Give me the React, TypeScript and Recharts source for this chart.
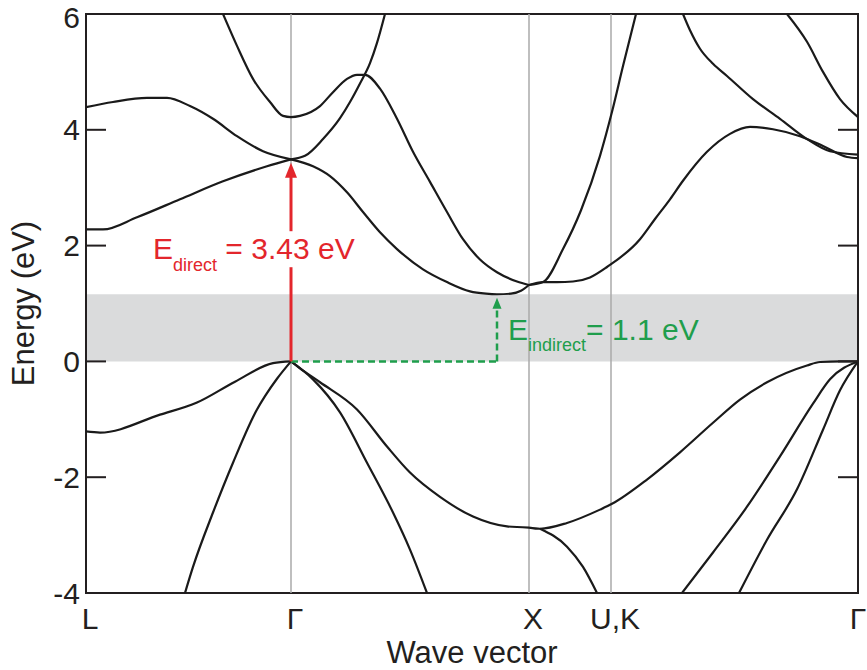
import React from "react";
import {
  LineChart,
  Line,
  XAxis,
  YAxis,
  ReferenceArea,
  ReferenceLine,
  ReferenceDot,
  Label,
} from "recharts";

// Positions of the high-symmetry points along the k-path (path length units)
const K_L = 0;
const K_GAMMA = 205;
const K_X = 443;
const K_UK = 525;
const K_GAMMA2 = 772;

const kTicks = [K_L, K_GAMMA, K_X, K_UK, K_GAMMA2];
const kLabels = ["L", "Γ", "X", "U,K", "Γ"];
const energyTicks = [-4, -2, 0, 2, 4, 6];

const DIRECT_GAP = 3.43;
const INDIRECT_GAP = 1.1;
const CBM_K = 411; // conduction band minimum along Γ-X
const GAP_TOP = 1.16;

// conduction bands: [k, E(eV)]
type Pt = [number, number];

const cbLambda1: Pt[] = [[0, 2.28], [17, 2.28], [51, 2.49], [94, 2.8], [137, 3.11], [181, 3.37], [205, 3.49]];
const cbLambda3: Pt[] = [[0, 4.39], [27, 4.48], [61, 4.55], [81, 4.55], [104, 4.41], [127, 4.19], [151, 3.89], [177, 3.63], [205, 3.49]];
const cbGamma2: Pt[] = [
  [137, 6.0], [151, 5.45], [167, 4.88], [184, 4.48], [197, 4.24], [205, 4.22], [214, 4.24], [234, 4.41],
  [247, 4.65], [261, 4.88], [271, 4.95], [279, 4.95], [294, 4.71], [311, 4.19], [327, 3.62], [344, 3.1],
  [361, 2.58], [377, 2.11], [394, 1.76], [411, 1.54], [431, 1.38], [443, 1.32],
];
const cbDelta5: Pt[] = [[205, 3.49], [219, 3.55], [237, 3.84], [254, 4.2], [264, 4.48], [274, 4.8], [284, 5.15], [291, 5.5], [299, 6.0]];
const cbDelta1: Pt[] = [
  [205, 3.49], [227, 3.37], [244, 3.2], [261, 2.92], [277, 2.58], [294, 2.23], [311, 1.94], [337, 1.59],
  [361, 1.37], [384, 1.21], [400, 1.17], [411, 1.16], [425, 1.17], [435, 1.22], [443, 1.32],
];
const cbXUlow: Pt[] = [
  [443, 1.32], [457, 1.37], [471, 1.37], [487, 1.38], [504, 1.45], [521, 1.63], [554, 2.11],
  [569, 2.46], [584, 2.8], [597, 3.12], [621, 3.62], [644, 3.93], [664, 4.05], [687, 4.01], [714, 3.89],
  [737, 3.72], [761, 3.53], [772, 3.51],
];
const cbXUsteep: Pt[] = [[443, 1.32], [457, 1.37], [477, 1.94], [495, 2.61], [514, 3.55], [526, 4.31], [537, 5.1], [550, 6.0]];
const cbKGa: Pt[] = [[597, 6.0], [604, 5.72], [614, 5.4], [627, 5.14], [641, 4.93], [667, 4.53], [694, 4.19], [721, 3.84], [744, 3.63], [772, 3.57]];
const cbKGb: Pt[] = [[701, 6.0], [721, 5.52], [737, 5.0], [754, 4.53], [772, 4.22]];

// valence bands
const vbLambda3: Pt[] = [[0, -1.21], [14, -1.23], [74, -0.92], [111, -0.71], [149, -0.35], [187, -0.03], [205, 0]];
const vbLambda1: Pt[] = [[99, -4.0], [107, -3.55], [127, -2.61], [147, -1.75], [171, -0.83], [179, -0.6], [191, -0.3], [205, 0]];
const vbDelta5: Pt[] = [[205, 0], [214, -0.12], [234, -0.36], [271, -0.83], [301, -1.47], [324, -1.92], [354, -2.34], [387, -2.68], [421, -2.85], [443, -2.87]];
const vbDelta1: Pt[] = [[205, 0], [227, -0.31], [254, -0.88], [281, -1.75], [307, -2.61], [324, -3.25], [341, -4.0]];
const vbXUtop: Pt[] = [
  [443, -2.87], [454, -2.89], [481, -2.79], [514, -2.56], [526, -2.46], [561, -2.04], [594, -1.57],
  [627, -1.06], [654, -0.66], [681, -0.36], [721, -0.07], [734, -0.01], [755, 0], [772, 0],
];
const vbXUlow: Pt[] = [[454, -2.89], [481, -3.2], [497, -3.55], [511, -4.0]];
const vbKG1: Pt[] = [[596, -4.0], [627, -3.3], [661, -2.51], [694, -1.64], [727, -0.73], [744, -0.31], [772, 0]];
const vbKG2: Pt[] = [[653, -4.0], [681, -3.08], [711, -2.21], [737, -1.18], [754, -0.5], [772, 0]];

const bands = [
  cbLambda1, cbLambda3, cbGamma2, cbDelta5, cbDelta1, cbXUlow, cbXUsteep, cbKGa, cbKGb,
  vbLambda3, vbLambda1, vbDelta5, vbDelta1, vbXUtop, vbXUlow, vbKG1, vbKG2,
].map((b) => b.map(([k, e]) => ({ k, e })));

const FONT = "'Liberation Sans', Arial, Helvetica, sans-serif";
const INK = "#231f20";
const RED = "#e3262c";
const GREEN = "#1f9e4c";
const FS = 30; // tick labels and annotations
const TITLE_FS = 31;
const SUB = 18;

// baselines of the two annotations, in eV
const DIRECT_LABEL_E = 1.765;
const INDIRECT_LABEL_E = 0.363;

function EnergyTick({ x, y, payload }: any) {
  // keep the topmost label inside the canvas
  const dy = payload.value === 6 ? 14 : 10.5;
  return (
    <g>
      <line x1={x + 6} x2={x + 26} y1={y} y2={y} stroke={INK} strokeWidth={2} />
      <text x={x} y={y} dy={dy} textAnchor="end" fontSize={FS} fontFamily={FONT} fill={INK}>
        {payload.value}
      </text>
    </g>
  );
}

function RightTick({ x, y }: any) {
  return <line x1={x - 20} x2={x} y1={y} y2={y} stroke={INK} strokeWidth={2} />;
}

function KTick({ x, y, payload }: any) {
  const i = kTicks.indexOf(payload.value);
  const dx = i === kTicks.length - 1 ? 0 : 4;
  return (
    <text x={x + dx} y={y + 36} textAnchor="middle" fontSize={FS} fontFamily={FONT} fill={INK}>
      {kLabels[i]}
    </text>
  );
}

function UpArrow(color: string, half: number, len: number) {
  return ({ cx, cy }: any) => (
    <path d={`M${cx},${cy} L${cx - half},${cy + len} L${cx + half},${cy + len} Z`} fill={color} />
  );
}

function DirectLabel({ cx, cy }: any) {
  return (
    <g>
      <rect x={cx - 68} y={cy - 28} width={134} height={36} fill="#fff" />
      <text x={cx - 138} y={cy} fill={RED} fontSize={FS} fontFamily={FONT}>
        E
        <tspan fontSize={SUB} dy={12}>direct</tspan>
        <tspan dy={-12}> = {DIRECT_GAP.toFixed(2)} eV</tspan>
      </text>
    </g>
  );
}

function IndirectLabel({ cx, cy }: any) {
  return (
    <text x={cx + 11} y={cy} fill={GREEN} fontSize={FS} fontFamily={FONT}>
      E
      <tspan fontSize={SUB} dy={11}>indirect</tspan>
      <tspan dy={-11}>= {INDIRECT_GAP.toFixed(1)} eV</tspan>
    </text>
  );
}

export default function App() {
  return (
    <div style={{ position: "absolute", left: 0, top: 0, background: "#fff" }}>
      <LineChart width={867} height={670} margin={{ top: 14, right: 0, bottom: 0, left: 0 }}>
        <XAxis
          dataKey="k"
          type="number"
          domain={[K_L, K_GAMMA2]}
          ticks={kTicks}
          interval={0}
          height={77}
          axisLine={false}
          tickLine={false}
          tickSize={0}
          tickMargin={0}
          tick={<KTick />}
          allowDataOverflow
        >
          <Label
            content={({ viewBox }: any) => (
              <text
                x={viewBox.x + viewBox.width / 2}
                y={viewBox.y + 70}
                textAnchor="middle"
                fontSize={TITLE_FS}
                fontFamily={FONT}
                fill={INK}
              >
                Wave vector
              </text>
            )}
          />
        </XAxis>
        <YAxis
          type="number"
          domain={[-4, 6]}
          ticks={energyTicks}
          interval={0}
          width={86}
          axisLine={false}
          tickLine={false}
          tickSize={0}
          tickMargin={6}
          tick={<EnergyTick />}
          allowDataOverflow
        >
          <Label
            content={({ viewBox }: any) => {
              const cx = 34;
              const cy = viewBox.y + viewBox.height / 2;
              return (
                <text
                  x={cx}
                  y={cy}
                  transform={`rotate(-90 ${cx} ${cy})`}
                  textAnchor="middle"
                  fontSize={TITLE_FS}
                  fontFamily={FONT}
                  fill={INK}
                >
                  Energy (eV)
                </text>
              );
            }}
          />
        </YAxis>
        <YAxis
          yAxisId="right"
          orientation="right"
          type="number"
          domain={[-4, 6]}
          ticks={energyTicks}
          interval={0}
          width={9}
          axisLine={false}
          tickLine={false}
          tickSize={0}
          tickMargin={0}
          tick={<RightTick />}
          allowDataOverflow
        />

        {/* band gap region */}
        <ReferenceArea y1={0} y2={GAP_TOP} fill="#dadbdc" fillOpacity={1} stroke="none" />

        {/* high-symmetry point markers */}
        {[K_GAMMA, K_X, K_UK].map((k) => (
          <ReferenceLine key={k} x={k} stroke="#aaaaaa" strokeWidth={1.5} />
        ))}

        {bands.map((b, i) => (
          <Line
            key={i}
            data={b}
            dataKey="e"
            type="monotone"
            stroke="#1a1a1a"
            strokeWidth={2.2}
            dot={false}
            activeDot={false}
            isAnimationActive={false}
          />
        ))}

        {/* indirect transition */}
        <ReferenceLine
          segment={[{ x: K_GAMMA, y: 0 }, { x: CBM_K, y: 0 }]}
          stroke={GREEN}
          strokeWidth={2.5}
          strokeDasharray="7 4"
        />
        <ReferenceLine
          segment={[{ x: CBM_K, y: 0 }, { x: CBM_K, y: INDIRECT_GAP - 0.12 }]}
          stroke={GREEN}
          strokeWidth={2.5}
          strokeDasharray="7 4"
        />
        <ReferenceDot x={CBM_K} y={INDIRECT_GAP} shape={UpArrow(GREEN, 4.5, 11)} />
        <ReferenceDot x={CBM_K} y={INDIRECT_LABEL_E} shape={IndirectLabel} />

        {/* direct transition */}
        <ReferenceLine
          segment={[{ x: K_GAMMA, y: 0 }, { x: K_GAMMA, y: DIRECT_GAP - 0.2 }]}
          stroke={RED}
          strokeWidth={3}
        />
        <ReferenceDot x={K_GAMMA} y={DIRECT_GAP} shape={UpArrow(RED, 6, 15)} />
        <ReferenceDot x={K_GAMMA} y={DIRECT_LABEL_E} shape={DirectLabel} />

        {/* plot frame */}
        <ReferenceArea y1={-4} y2={6} fill="none" stroke={INK} strokeWidth={2} />
      </LineChart>
    </div>
  );
}
